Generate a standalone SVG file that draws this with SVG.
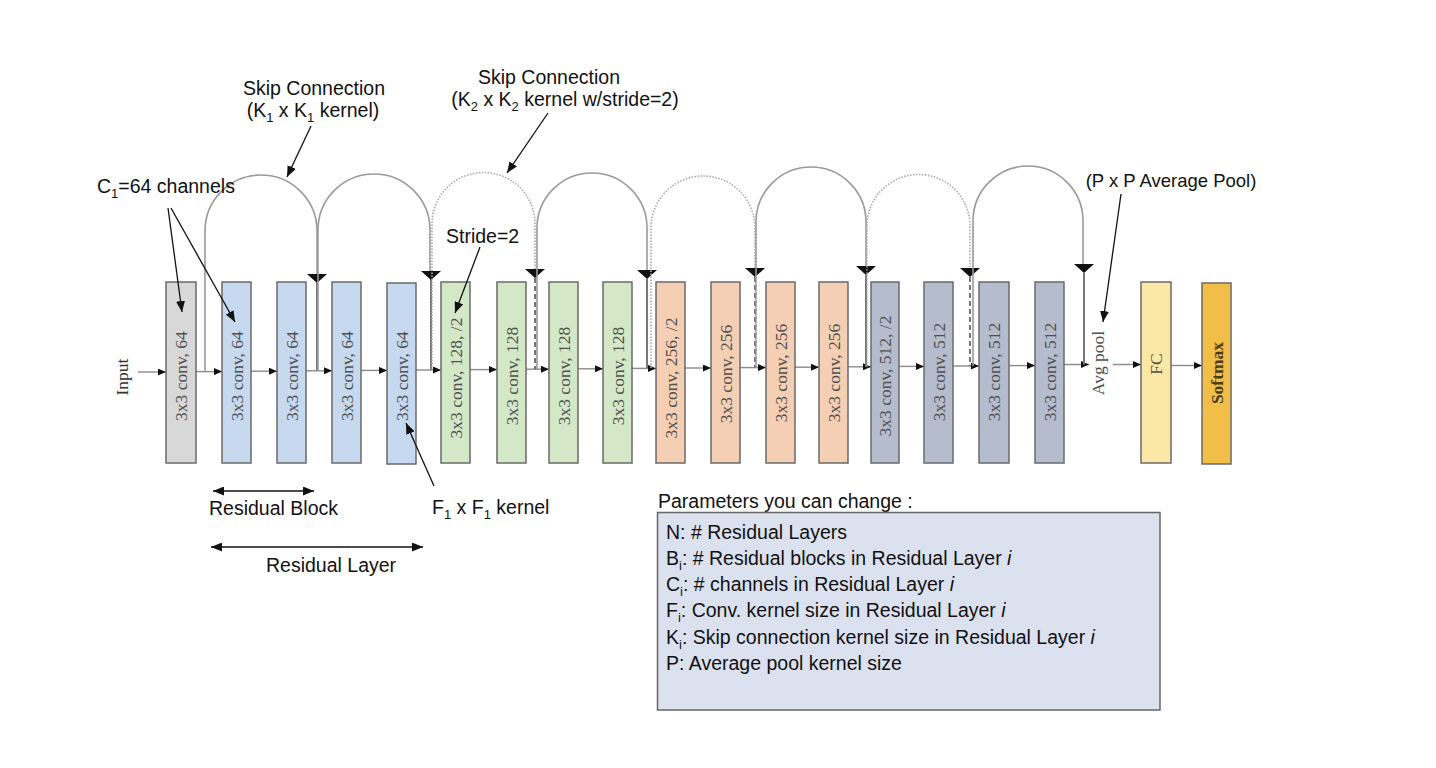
<svg xmlns="http://www.w3.org/2000/svg" width="1436" height="768" viewBox="0 0 1436 768">
<style>
.box{stroke:#6a6a6a;stroke-width:1.5}
.g{fill:#d8d8d8}.b{fill:#c6d9ef}.gr{fill:#d4e8c7}.o{fill:#f5cfb3}.s{fill:#b4bccd}.fc{fill:#fce8a6}.sm{fill:#f1bf47}
.bt{font-family:"Liberation Serif",serif;font-size:17.5px;fill:#505050;text-anchor:middle}
.lab{font-family:"Liberation Sans",Arial,sans-serif;font-size:19.5px;fill:#111}
.sub{font-size:13px}
.main{stroke:#8a8a8a;stroke-width:1.4;fill:none}
.arc{stroke:#9a9a9a;stroke-width:1.6;fill:none}
.dot{stroke:#a8a8a8;stroke-width:1.6;fill:none;stroke-dasharray:1.5 1.5}
.down{stroke:#777;stroke-width:2;fill:none}
.dash{stroke:#666;stroke-width:1.8;fill:none;stroke-dasharray:5 3}
.tri{fill:#111}
.ann{stroke:#111;stroke-width:1.3;fill:none}
</style>
<defs>
<marker id="ah" markerUnits="userSpaceOnUse" markerWidth="8" markerHeight="7" refX="8" refY="3.5" orient="auto"><path d="M0,0 L8,3.5 L0,7 z" fill="#111"/></marker>
<marker id="aa" markerUnits="userSpaceOnUse" markerWidth="11" markerHeight="9" refX="11" refY="4.5" orient="auto-start-reverse"><path d="M0,0 L11,4.5 L0,9 z" fill="#111"/></marker>
</defs>
<rect width="1436" height="768" fill="#fff"/>

<g id="connectors">
<line class="main" x1="138" y1="372" x2="166" y2="372" marker-end="url(#ah)"/>
<line class="main" x1="196" y1="371.6" x2="222" y2="371.6" marker-end="url(#ah)"/>
<line class="main" x1="251" y1="371.2" x2="277" y2="371.2" marker-end="url(#ah)"/>
<line class="main" x1="306" y1="370.8" x2="332" y2="370.8" marker-end="url(#ah)"/>
<line class="main" x1="361" y1="370.4" x2="387" y2="370.4" marker-end="url(#ah)"/>
<line class="main" x1="416" y1="370" x2="441" y2="370" marker-end="url(#ah)"/>
<line class="main" x1="470" y1="369.6" x2="497" y2="369.6" marker-end="url(#ah)"/>
<line class="main" x1="526" y1="369.2" x2="549" y2="369.2" marker-end="url(#ah)"/>
<line class="main" x1="578" y1="368.8" x2="603" y2="368.8" marker-end="url(#ah)"/>
<line class="main" x1="632" y1="368.4" x2="656" y2="368.4" marker-end="url(#ah)"/>
<line class="main" x1="685" y1="368" x2="711" y2="368" marker-end="url(#ah)"/>
<line class="main" x1="740" y1="367.6" x2="766" y2="367.6" marker-end="url(#ah)"/>
<line class="main" x1="795" y1="367.2" x2="819" y2="367.2" marker-end="url(#ah)"/>
<line class="main" x1="848" y1="366.8" x2="871" y2="366.8" marker-end="url(#ah)"/>
<line class="main" x1="899" y1="366.4" x2="924" y2="366.4" marker-end="url(#ah)"/>
<line class="main" x1="953" y1="366" x2="979" y2="366" marker-end="url(#ah)"/>
<line class="main" x1="1009" y1="365.6" x2="1035" y2="365.6" marker-end="url(#ah)"/>
<line class="main" x1="1064" y1="364.5" x2="1089" y2="364.5" marker-end="url(#ah)"/>
<line class="main" x1="1113" y1="364.5" x2="1141" y2="364.5" marker-end="url(#ah)"/>
<line class="main" x1="1171" y1="365.5" x2="1202" y2="365.5" marker-end="url(#ah)"/>

<path class="arc" d="M205,372 L205,231 A56,56 0 0 1 317,231 L317,274"/>
<path class="down" d="M317,283 L317,371"/>
<polygon class="tri" points="307,274 327,274 317,283"/>

<path class="arc" d="M318,371 L318,230 A56,56 0 0 1 430,230 L430,271"/>
<path class="down" d="M431,279 L431,370"/>
<polygon class="tri" points="421,271 441,271 431,280"/>

<path class="dot" d="M432,370 L432,224 A51.5,51.5 0 0 1 535,224 L535,269"/>
<path class="dash" d="M535,278 L535,369"/>
<polygon class="tri" points="525,269 545,269 535,278"/>

<path class="arc" d="M537,369 L537,228 A55,55 0 0 1 647,228 L647,270"/>
<path class="down" d="M647,279 L647,368"/>
<polygon class="tri" points="637,270 657,270 647,279"/>

<path class="dot" d="M651,368 L651,228 A52,52 0 0 1 755,228 L755,268"/>
<path class="dash" d="M755,277 L755,367.5"/>
<polygon class="tri" points="745,268 765,268 755,277"/>

<path class="arc" d="M756,367.5 L756,222 A55,55 0 0 1 866,222 L866,266"/>
<path class="down" d="M866,275 L866,366.8"/>
<polygon class="tri" points="856,266 876,266 866,275"/>

<path class="dot" d="M867,366.8 L867,226 A51.5,51.5 0 0 1 970,226 L970,268"/>
<path class="dash" d="M970,277 L970,366"/>
<polygon class="tri" points="960,268 980,268 970,277"/>

<path class="arc" d="M973,366 L973,221 A55,55 0 0 1 1083,221 L1083,264"/>
<path class="down" d="M1084,273 L1084,364.5"/>
<polygon class="tri" points="1074,264 1094,264 1084,273"/>
</g>

<g id="input"><text class="bt" x="122" y="377" dy="0.35em" transform="rotate(-90 122 377)" style="fill:#333">Input</text></g>

<g id="conv1"><rect class="box g" x="166" y="282" width="30" height="181"/><text class="bt" x="181" y="376" dy="0.35em" transform="rotate(-90 181 376)">3x3 conv, 64</text></g>
<g id="conv2"><rect class="box b" x="222" y="282" width="29" height="181"/><text class="bt" x="236.5" y="376" dy="0.35em" transform="rotate(-90 236.5 376)">3x3 conv, 64</text></g>
<g id="conv3"><rect class="box b" x="277" y="282" width="29" height="181"/><text class="bt" x="291.5" y="376" dy="0.35em" transform="rotate(-90 291.5 376)">3x3 conv, 64</text></g>
<g id="conv4"><rect class="box b" x="332" y="282" width="29" height="181"/><text class="bt" x="346.5" y="376" dy="0.35em" transform="rotate(-90 346.5 376)">3x3 conv, 64</text></g>
<g id="conv5"><rect class="box b" x="387" y="283" width="29" height="181"/><text class="bt" x="401.5" y="376" dy="0.35em" transform="rotate(-90 401.5 376)">3x3 conv, 64</text></g>
<g id="conv6"><rect class="box gr" x="441" y="282" width="29" height="181"/><text class="bt" x="455.5" y="378" dy="0.35em" transform="rotate(-90 455.5 378)">3x3 conv, 128, /2</text></g>
<g id="conv7"><rect class="box gr" x="497" y="282" width="29" height="181"/><text class="bt" x="511.5" y="376" dy="0.35em" transform="rotate(-90 511.5 376)">3x3 conv, 128</text></g>
<g id="conv8"><rect class="box gr" x="549" y="282" width="29" height="181"/><text class="bt" x="563.5" y="376" dy="0.35em" transform="rotate(-90 563.5 376)">3x3 conv, 128</text></g>
<g id="conv9"><rect class="box gr" x="603" y="282" width="29" height="181"/><text class="bt" x="617.5" y="376" dy="0.35em" transform="rotate(-90 617.5 376)">3x3 conv, 128</text></g>
<g id="conv10"><rect class="box o" x="656" y="282" width="29" height="181"/><text class="bt" x="670.5" y="378" dy="0.35em" transform="rotate(-90 670.5 378)">3x3 conv, 256, /2</text></g>
<g id="conv11"><rect class="box o" x="711" y="282" width="29" height="181"/><text class="bt" x="725.5" y="374" dy="0.35em" transform="rotate(-90 725.5 374)">3x3 conv, 256</text></g>
<g id="conv12"><rect class="box o" x="766" y="282" width="29" height="181"/><text class="bt" x="780.5" y="373" dy="0.35em" transform="rotate(-90 780.5 373)">3x3 conv, 256</text></g>
<g id="conv13"><rect class="box o" x="819" y="282" width="29" height="181"/><text class="bt" x="833.5" y="373" dy="0.35em" transform="rotate(-90 833.5 373)">3x3 conv, 256</text></g>
<g id="conv14"><rect class="box s" x="871" y="282" width="28" height="181"/><text class="bt" x="885" y="376" dy="0.35em" transform="rotate(-90 885 376)">3x3 conv, 512, /2</text></g>
<g id="conv15"><rect class="box s" x="924" y="282" width="29" height="181"/><text class="bt" x="938.5" y="372" dy="0.35em" transform="rotate(-90 938.5 372)">3x3 conv, 512</text></g>
<g id="conv16"><rect class="box s" x="979" y="282" width="30" height="181"/><text class="bt" x="994" y="372" dy="0.35em" transform="rotate(-90 994 372)">3x3 conv, 512</text></g>
<g id="conv17"><rect class="box s" x="1035" y="282" width="29" height="181"/><text class="bt" x="1049.5" y="372" dy="0.35em" transform="rotate(-90 1049.5 372)">3x3 conv, 512</text></g>
<g id="avgpool"><text class="bt" x="1098" y="363" dy="0.35em" transform="rotate(-90 1098 363)">Avg pool</text></g>
<g id="fc"><rect class="box fc" x="1141" y="282" width="30" height="181"/><text class="bt" x="1156" y="364" dy="0.35em" transform="rotate(-90 1156 364)">FC</text></g>
<g id="softmax"><rect class="box sm" x="1202" y="283" width="29" height="181"/><text class="bt" x="1216.5" y="373" dy="0.35em" transform="rotate(-90 1216.5 373)" style="fill:#4a3a18;font-weight:bold">Softmax</text></g>

<g id="annotation-arrows">
<line class="ann" x1="311" y1="126" x2="287" y2="177" marker-end="url(#aa)"/>
<line class="ann" x1="548" y1="113" x2="507" y2="173" marker-end="url(#aa)"/>
<line class="ann" x1="168" y1="208" x2="182" y2="312" marker-end="url(#aa)"/>
<line class="ann" x1="171" y1="208" x2="235" y2="322" marker-end="url(#aa)"/>
<line class="ann" x1="480" y1="247" x2="455" y2="313" marker-end="url(#aa)"/>
<line class="ann" x1="434" y1="486" x2="406" y2="423" marker-end="url(#aa)"/>
<line class="ann" x1="1121" y1="194" x2="1103" y2="322" marker-end="url(#aa)"/>
<line class="ann" x1="213" y1="491" x2="314" y2="491" marker-start="url(#aa)" marker-end="url(#aa)"/>
<line class="ann" x1="211" y1="547" x2="423" y2="547" marker-start="url(#aa)" marker-end="url(#aa)"/>
</g>

<g id="labels">
<text class="lab" x="314" y="95" text-anchor="middle">Skip Connection</text>
<text class="lab" x="313" y="117" text-anchor="middle">(K<tspan class="sub" dy="5">1</tspan><tspan dy="-5"> x K</tspan><tspan class="sub" dy="5">1</tspan><tspan dy="-5"> kernel)</tspan></text>
<text class="lab" x="549" y="84" text-anchor="middle">Skip Connection</text>
<text class="lab" x="565" y="106" text-anchor="middle">(K<tspan class="sub" dy="5">2</tspan><tspan dy="-5"> x K</tspan><tspan class="sub" dy="5">2</tspan><tspan dy="-5"> kernel w/stride=2)</tspan></text>
<text class="lab" x="97" y="193">C<tspan class="sub" dy="5">1</tspan><tspan dy="-5">=64 channels</tspan></text>
<text class="lab" x="446" y="243">Stride=2</text>
<text class="lab" x="1171" y="187" text-anchor="middle" style="font-size:18.5px">(P x P Average Pool)</text>
<text class="lab" x="209" y="515">Residual Block</text>
<text class="lab" x="266" y="572">Residual Layer</text>
<text class="lab" x="432" y="514">F<tspan class="sub" dy="5">1</tspan><tspan dy="-5"> x F</tspan><tspan class="sub" dy="5">1</tspan><tspan dy="-5"> kernel</tspan></text>
</g>

<g id="params">
<text class="lab" x="658" y="508">Parameters you can change :</text>
<rect x="657.5" y="512.5" width="502.5" height="197.5" fill="#dce1ef" stroke="#666" stroke-width="1.5"/>
<text class="lab" x="666" y="539">N: # Residual Layers</text>
<text class="lab" x="666" y="565">B<tspan class="sub" dy="5">i</tspan><tspan dy="-5">: # Residual blocks in Residual Layer </tspan><tspan font-style="italic">i</tspan></text>
<text class="lab" x="666" y="591">C<tspan class="sub" dy="5">i</tspan><tspan dy="-5">: # channels in Residual Layer </tspan><tspan font-style="italic">i</tspan></text>
<text class="lab" x="666" y="617">F<tspan class="sub" dy="5">i</tspan><tspan dy="-5">: Conv. kernel size in Residual Layer </tspan><tspan font-style="italic">i</tspan></text>
<text class="lab" x="666" y="644">K<tspan class="sub" dy="5">i</tspan><tspan dy="-5">: Skip connection kernel size in Residual Layer </tspan><tspan font-style="italic">i</tspan></text>
<text class="lab" x="666" y="670">P: Average pool kernel size</text>
</g>
</svg>
